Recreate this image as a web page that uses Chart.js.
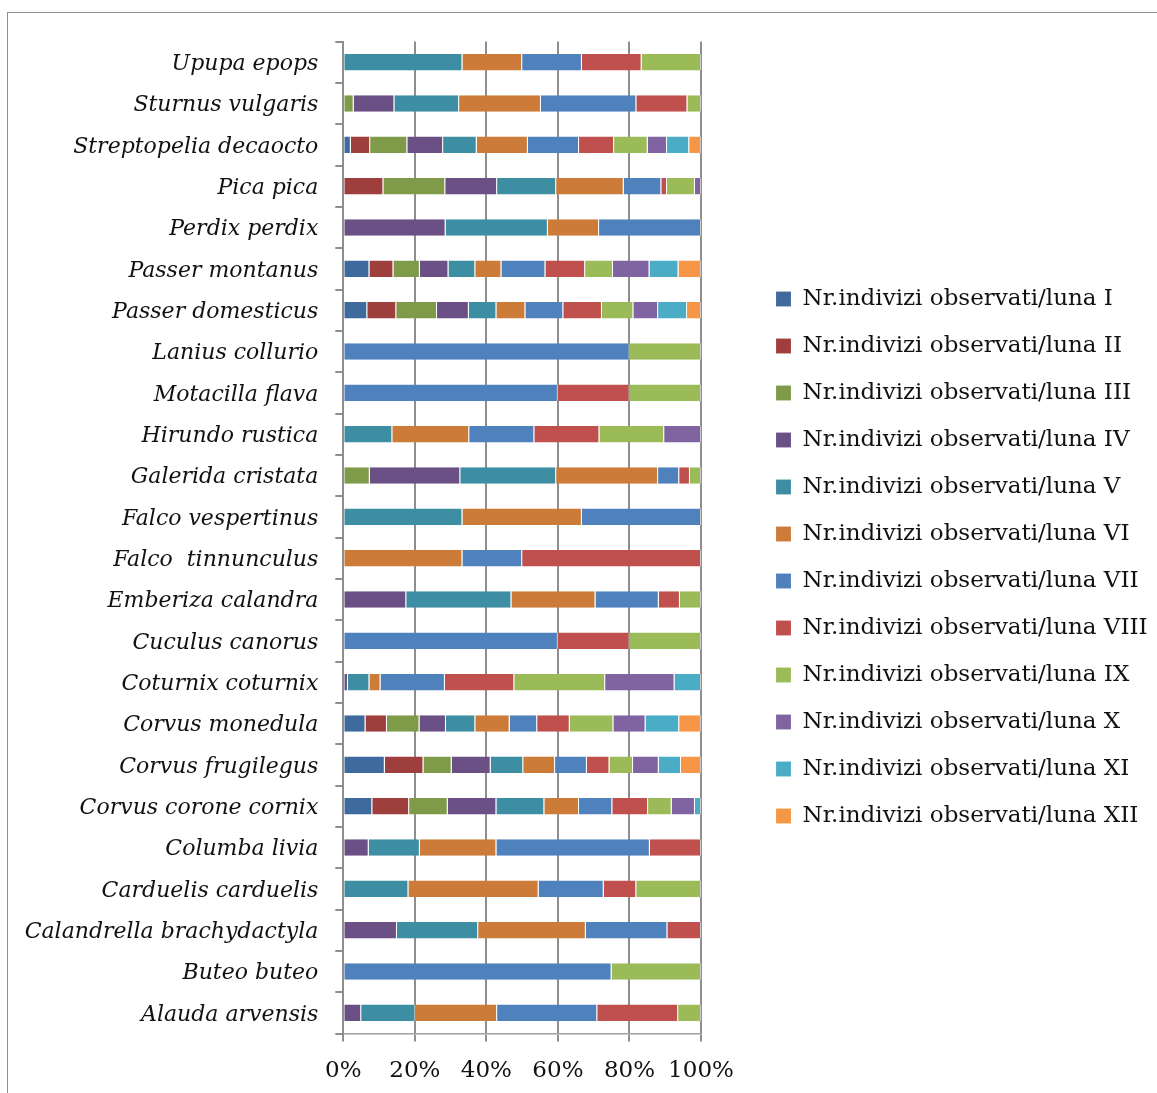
<!DOCTYPE html>
<html>
<head>
<meta charset="utf-8">
<script src="https://cdn.jsdelivr.net/npm/chart.js@4/dist/chart.umd.min.js"></script>
<style>
  html, body { margin: 0; padding: 0; background: #fff; }
  body { width: 1157px; height: 1093px; position: relative; overflow: hidden; }
  #frame { position: absolute; left: 7px; top: 12px; width: 1300px; height: 1300px;
           border-left: 1px solid #8f8f8f; border-top: 1px solid #8f8f8f; }
  #c { position: absolute; left: 0; top: 0; }
</style>
</head>
<body>
<div id="frame"></div>
<canvas id="c" width="1157" height="1093"></canvas>
<script>
// Species, listed top to bottom
const species = [
  'Upupa epops', 'Sturnus vulgaris', 'Streptopelia decaocto', 'Pica pica',
  'Perdix perdix', 'Passer montanus', 'Passer domesticus', 'Lanius collurio',
  'Motacilla flava', 'Hirundo rustica', 'Galerida cristata', 'Falco vespertinus',
  'Falco  tinnunculus', 'Emberiza calandra', 'Cuculus canorus', 'Coturnix coturnix',
  'Corvus monedula', 'Corvus frugilegus', 'Corvus corone cornix', 'Columba livia',
  'Carduelis carduelis', 'Calandrella brachydactyla', 'Buteo buteo', 'Alauda arvensis'
];

const monthNumerals = ['I', 'II', 'III', 'IV', 'V', 'VI', 'VII', 'VIII', 'IX', 'X', 'XI', 'XII'];

// Share of individuals observed in each month (%), one value per species
const lunaI    = [0, 0, 2.1, 0, 0, 7.3, 6.7, 0, 0, 0, 0, 0, 0, 0, 0, 0, 6.2, 11.6, 8.1, 0, 0, 0, 0, 0];
const lunaII   = [0, 0, 5.4, 11.2, 0, 6.7, 8.1, 0, 0, 0, 0, 0, 0, 0, 0, 0, 6.0, 10.8, 10.3, 0, 0, 0, 0, 0];
const lunaIII  = [0, 2.9, 10.4, 17.3, 0, 7.4, 11.4, 0, 0, 0, 7.4, 0, 0, 0, 0, 0, 9.1, 7.9, 10.8, 0, 0, 0, 0, 0];
const lunaIV   = [0, 11.4, 10.0, 14.5, 28.6, 8.0, 8.9, 0, 0, 0, 25.3, 0, 0, 17.6, 0, 1.3, 7.4, 10.9, 13.6, 7.1, 0, 15.0, 0, 5.0];
const lunaV    = [33.3, 18.1, 9.4, 16.5, 28.6, 7.5, 7.7, 0, 0, 13.7, 26.8, 33.3, 0, 29.4, 0, 6.0, 8.2, 9.1, 13.4, 14.3, 18.2, 22.7, 0, 15.1];
const lunaVI   = [16.7, 22.9, 14.3, 18.9, 14.3, 7.3, 8.1, 0, 0, 21.5, 28.5, 33.4, 33.3, 23.5, 0, 3.1, 9.6, 8.9, 9.7, 21.4, 36.4, 30.1, 0, 22.9];
const lunaVII  = [16.7, 26.7, 14.3, 10.5, 28.5, 12.3, 10.6, 80, 60, 18.2, 5.9, 33.3, 16.7, 17.7, 60, 18.0, 7.7, 8.9, 9.3, 42.9, 18.2, 22.8, 75, 28.0];
const lunaVIII = [16.7, 14.3, 9.8, 1.6, 0, 11.1, 10.8, 0, 20, 18.2, 3.0, 0, 50, 5.9, 20, 19.4, 9.1, 6.3, 10.0, 14.3, 9.1, 9.4, 0, 22.6];
const lunaIX   = [16.6, 3.8, 9.4, 7.8, 0, 7.8, 8.8, 20, 20, 18.1, 3.1, 0, 0, 5.9, 20, 25.4, 12.2, 6.6, 6.6, 0, 18.1, 0, 25, 6.4];
const lunaX    = [0, 0, 5.4, 1.7, 0, 10.2, 6.9, 0, 0, 10.3, 0, 0, 0, 0, 0, 19.4, 9.0, 7.2, 6.5, 0, 0, 0, 0, 0];
const lunaXI   = [0, 0, 6.2, 0, 0, 8.1, 8.1, 0, 0, 0, 0, 0, 0, 0, 0, 7.4, 9.4, 6.2, 1.7, 0, 0, 0, 0, 0];
const lunaXII  = [0, 0, 3.3, 0, 0, 6.3, 3.9, 0, 0, 0, 0, 0, 0, 0, 0, 0, 6.1, 5.6, 0, 0, 0, 0, 0, 0];

const axisTicks = [0, 20, 40, 60, 80, 100];

const monthSeries = [lunaI, lunaII, lunaIII, lunaIV, lunaV, lunaVI, lunaVII, lunaVIII, lunaIX, lunaX, lunaXI, lunaXII];
const monthColors = ['#3E6A9E', '#9E3F3D', '#7F9A49', '#6A5085', '#3D8DA3', '#CC7B38',
                     '#4F81BD', '#C0504D', '#9BBB59', '#8064A2', '#4BACC6', '#F79646'];

// Each species row is scaled to a 100 % total
const rowTotals = species.map((_, i) => monthSeries.reduce((s, m) => s + m[i], 0));

const datasets = monthSeries.map((vals, k) => ({
  label: 'Nr.indivizi observati/luna ' + monthNumerals[k],
  data: vals.map((v, i) => rowTotals[i] ? v * 100 / rowTotals[i] : 0),
  backgroundColor: monthColors[k],
  borderColor: 'rgba(255,255,255,0.55)',
  borderWidth: { left: 0, right: 1, top: 0, bottom: 0 },
  borderSkipped: false,
  barPercentage: 0.4,
  categoryPercentage: 1.0
}));

const serif = 'DejaVu Serif';
const gridGray = '#8e8e8e';

// Reserve a fixed band for the legend and place its items
const legendPlacement = {
  id: 'legendPlacement',
  beforeInit(chart) {
    const legend = chart.legend;
    const origFit = legend.fit;
    legend.fit = function () {
      origFit.call(this);
      this.width = 456;
    };
  },
  afterLayout(chart) {
    const legend = chart.legend;
    legend.left = 752;
    legend.right = 1157;
    legend.width = legend.right - legend.left;
    legend.top = 0;
    legend.bottom = 1115;
    legend.height = 1115;
  }
};

new Chart(document.getElementById('c'), {
  type: 'bar',
  data: { labels: species, datasets },
  plugins: [legendPlacement],
  options: {
    indexAxis: 'y',
    responsive: false,
    devicePixelRatio: 1,
    animation: false,
    layout: { padding: { top: 41.5, bottom: 0, left: 0, right: 0 } },
    plugins: {
      tooltip: { enabled: false },
      legend: {
        position: 'right',
        align: 'center',
        labels: {
          boxWidth: 15,
          boxHeight: 15,
          padding: 24,
          color: '#111',
          font: { family: serif, size: 23 }
        }
      }
    },
    scales: {
      x: {
        stacked: true,
        min: 0,
        max: 100,
        afterBuildTicks: (scale) => { scale.ticks = axisTicks.map(v => ({ value: v })); },
        afterFit: (scale) => { scale.height = 59.5; },
        ticks: {
          callback: (v) => v + '%',
          color: '#111',
          padding: 16,
          maxRotation: 0,
          font: { family: serif, size: 23 }
        },
        grid: { color: gridGray, lineWidth: 2, tickLength: 8, drawOnChartArea: true },
        border: { display: true, color: '#a0a0a0', width: 1.5 }
      },
      y: {
        stacked: true,
        afterFit: (scale) => { scale.width = 343.3; },
        ticks: {
          autoSkip: false,
          color: '#111',
          padding: 17,
          labelOffset: 2,
          font: { family: serif, size: 22, style: 'italic' }
        },
        grid: { color: gridGray, lineWidth: 2, tickLength: 8, drawOnChartArea: false, offset: true },
        border: { display: true, color: gridGray, width: 2 }
      }
    }
  }
});
</script>
</body>
</html>
